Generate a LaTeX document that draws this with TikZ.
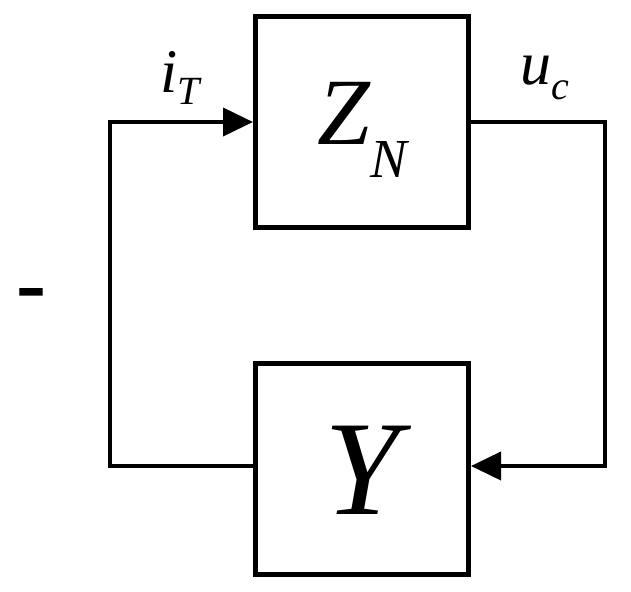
\documentclass[tikz,border=0pt]{standalone}
\usepackage{fontspec}
\setmainfont{Liberation Serif}
\usetikzlibrary{arrows.meta}
\begin{document}
\begin{tikzpicture}[x=1pt,y=-1pt,
  blk/.style={draw,line width=5pt,minimum width=213pt,minimum height=211pt,inner sep=0pt},
  wire/.style={line width=4pt},
  arr/.style={wire,-{Triangle[length=30pt,width=28pt]}},
  lbl/.style={inner sep=0pt}]
\useasboundingbox (0,0) rectangle (631,591);
\node[blk] (z) at (362,122) {};
\node[blk] (y) at (362,469) {};
\node[lbl] at (362,130) {\fontsize{95}{95}\selectfont\itshape Z\raisebox{-0.35em}{\fontsize{55}{55}\selectfont N}};
\node[lbl] at (362,470) {\fontsize{135}{135}\selectfont\itshape Y};
\node[lbl] at (180,78) {\fontsize{62}{62}\selectfont\itshape i\raisebox{-0.2em}{\fontsize{40}{40}\selectfont T}};
\node[lbl] at (545,78) {\fontsize{62}{62}\selectfont\itshape u\raisebox{-0.25em}{\fontsize{40}{40}\selectfont c}};
\node[lbl] at (31,301) {\fontsize{90}{90}\selectfont\bfseries -};
\coordinate (tl) at (110,122);
\coordinate (bl) at (110,466);
\coordinate (tr) at (605,122);
\coordinate (br) at (605,466);
\draw[arr] (y.west |- bl) -- (bl) -- (tl) -- (z.west |- tl);
\draw[arr] (z.east |- tr) -- (tr) -- (br) -- (y.east |- br);
\end{tikzpicture}
\end{document}
